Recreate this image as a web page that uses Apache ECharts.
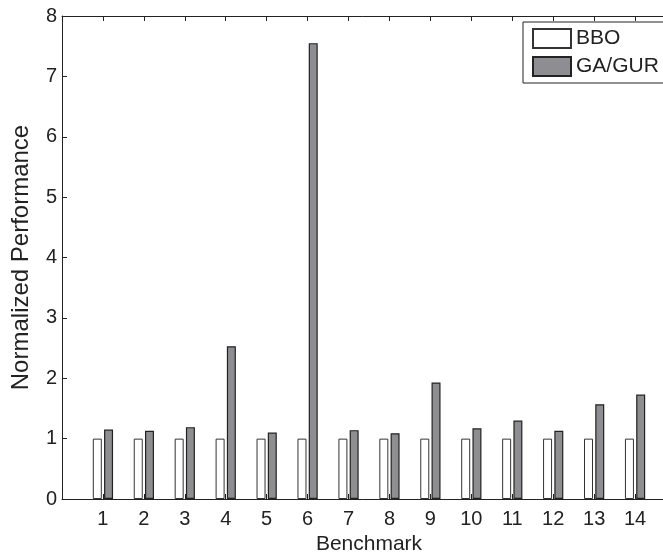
<!DOCTYPE html>
<html>
<head>
<meta charset="utf-8">
<script src="https://cdn.jsdelivr.net/npm/echarts@6/dist/echarts.min.js"></script>
<style>
  html, body { margin: 0; padding: 0; background: #fff; }
  #chart { width: 663px; height: 554px; }
</style>
</head>
<body>
<div id="chart"></div>
<script>
// benchmark numbers 1..14
const benchmarks = [1, 2, 3, 4, 5, 6, 7, 8, 9, 10, 11, 12, 13, 14]
const bbo = [1, 1, 1, 1, 1, 1, 1, 1, 1, 1, 1, 1, 1, 1]
const gaGur = [1.15, 1.13, 1.19, 2.53, 1.10, 7.55, 1.14, 1.09, 1.93, 1.17, 1.30, 1.13, 1.57, 1.73]
const yTicks = [0, 1, 2, 3, 4, 5, 6, 7, 8]

const ink = '#222'
const font = 'Liberation Sans, Arial, Helvetica, sans-serif'
const fs = 20

const chart = echarts.init(document.getElementById('chart'), null, { renderer: 'canvas' })

const pairs = function (vals) {
  return benchmarks.map(function (b, i) { return [b, vals[i]] })
}

const tickStyle = {
  show: true, inside: true, length: 5, lineStyle: { color: ink }, customValues: benchmarks
}

const xBase = {
  type: 'value',
  min: 0,
  max: 15,
  interval: 1,
  axisLine: { show: true, lineStyle: { color: ink, width: 1 } },
  axisTick: tickStyle,
  splitLine: { show: false }
}

chart.setOption({
  animation: false,
  backgroundColor: '#fff',
  textStyle: { fontFamily: font, color: ink },
  // axis runs past the right edge (x = 15 is off canvas, like the cropped figure)
  grid: { left: 62, width: 614, top: 16, bottom: 55, outerBoundsMode: 'none', containLabel: false },
  legend: {
    orient: 'vertical',
    left: 523,
    top: 22,
    padding: [6, 40, 6, 9],
    itemWidth: 38,
    itemHeight: 19,
    itemGap: 7,
    icon: 'rect',
    backgroundColor: '#fff',
    borderColor: ink,
    borderWidth: 1,
    borderRadius: 0,
    textStyle: { fontFamily: font, fontSize: 21, color: ink },
    data: ['BBO', 'GA/GUR']
  },
  xAxis: [
    Object.assign({}, xBase, {
      position: 'bottom',
      name: 'Benchmark',
      nameLocation: 'middle',
      nameGap: 31,
      nameTextStyle: { fontFamily: font, fontSize: 21, color: ink },
      axisLabel: {
        margin: 10,
        fontFamily: font,
        fontSize: fs,
        color: ink,
        customValues: benchmarks
      }
    }),
    Object.assign({}, xBase, {
      position: 'top',
      axisLabel: { show: false }
    })
  ],
  yAxis: {
    type: 'value',
    min: 0,
    max: 8,
    interval: 1,
    name: 'Normalized Performance',
    nameLocation: 'middle',
    nameGap: 29,
    nameTextStyle: { fontFamily: font, fontSize: 24, color: ink },
    axisLine: { show: true, lineStyle: { color: ink, width: 1 } },
    axisTick: { show: true, inside: true, length: 5, lineStyle: { color: ink }, customValues: yTicks },
    axisLabel: { margin: 5, fontFamily: font, fontSize: fs, color: ink, customValues: yTicks },
    splitLine: { show: false }
  },
  series: [
    {
      name: 'BBO',
      type: 'bar',
      xAxisIndex: 0,
      barWidth: 9,
      barGap: '25%',
      data: pairs(bbo),
      itemStyle: { color: '#fff', borderColor: '#333', borderWidth: 1 }
    },
    {
      name: 'GA/GUR',
      type: 'bar',
      xAxisIndex: 0,
      barWidth: 9,
      barGap: '25%',
      data: pairs(gaGur),
      itemStyle: { color: '#8e8e92', borderColor: ink, borderWidth: 1.2 }
    }
  ]
})
</script>
</body>
</html>
